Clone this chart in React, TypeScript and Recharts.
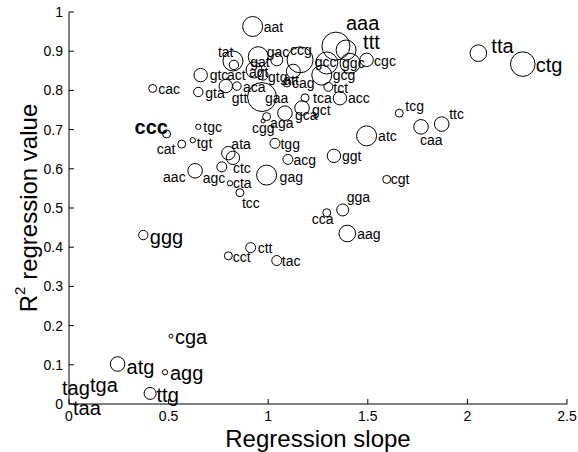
import React from 'react';
import { ScatterChart, Scatter, XAxis, YAxis, ZAxis, Label } from 'recharts';

const codons = [
  'aat', 'aaa', 'ttt', 'tta', 'ctg', 'tat', 'act', 'gat', 'gac', 'ccg',
  'agt', 'gtg', 'att', 'cag', 'gtc', 'gta', 'cac', 'gtt', 'aca', 'gaa',
  'gcc', 'ggc', 'cgc', 'gcg', 'tct', 'tca', 'acc', 'gct', 'gca', 'aga',
  'cgg', 'ccc', 'tgc', 'cat', 'tgt', 'ata', 'ctc', 'agc', 'cta', 'tcc',
  'aac', 'gag', 'tgg', 'acg', 'ggt', 'atc', 'tcg', 'ttc', 'caa', 'cgt',
  'gga', 'cca', 'aag', 'ggg', 'ctt', 'cct', 'tac', 'cga', 'atg', 'agg',
  'ttg', 'tag', 'tga', 'taa',
];
const slopes = [
  0.922, 1.34, 1.391, 2.055, 2.278, 0.823, 0.828, 0.95, 1.043, 1.16,
  0.929, 0.974, 1.126, 1.094, 0.661, 0.649, 0.42, 0.787, 0.843, 0.969,
  1.294, 1.411, 1.494, 1.269, 1.302, 1.185, 1.36, 1.17, 1.084, 0.992,
  0.974, 0.49, 0.649, 0.566, 0.621, 0.8, 0.823, 0.767, 0.808, 0.858,
  0.633, 0.992, 1.034, 1.099, 1.33, 1.494, 1.658, 1.871, 1.767, 1.595,
  1.374, 1.294, 1.397, 0.373, 0.912, 0.8, 1.043, 0.512, 0.244, 0.482,
  0.407, 0, 0, 0,
];
const r2Values = [
  0.963, 0.913, 0.903, 0.895, 0.867, 0.875, 0.865, 0.886, 0.878, 0.878,
  0.852, 0.839, 0.849, 0.819, 0.839, 0.796, 0.805, 0.811, 0.811, 0.783,
  0.87, 0.869, 0.878, 0.839, 0.809, 0.781, 0.78, 0.755, 0.742, 0.733,
  0.722, 0.689, 0.707, 0.663, 0.673, 0.64, 0.628, 0.605, 0.563, 0.539,
  0.595, 0.584, 0.665, 0.624, 0.633, 0.684, 0.742, 0.714, 0.707, 0.573,
  0.495, 0.488, 0.435, 0.431, 0.399, 0.378, 0.366, 0.173, 0.102, 0.081,
  0.027, 0, 0, 0,
];
// bubble weight (area)
const weights = [
  100, 196, 100, 69, 151, 100, 22, 100, 36, 169,
  64, 25, 49, 16, 45, 22, 16, 45, 18, 210,
  121, 100, 45, 100, 20, 16, 45, 53, 53, 16,
  4, 16, 7, 16, 7, 45, 45, 25, 7, 16,
  53, 100, 25, 25, 45, 100, 16, 53, 53, 16,
  36, 16, 69, 22, 25, 16, 25, 4, 53, 7,
  36, 0, 0, 0,
];

const xTicks = [0, 0.5, 1, 1.5, 2, 2.5];
const yTicks = [0, 0.1, 0.2, 0.3, 0.4, 0.5, 0.6, 0.7, 0.8, 0.9, 1];

// where each codon label sits relative to its bubble, in px
const labelNudge: Record<string, [number, number]> = {
  aat: [11, 0], aaa: [10, -23], ttt: [17, -8], tta: [13, -7], ctg: [13, 1],
  tat: [-15, -9], act: [-7, 10], gat: [-8, 5], gac: [-10, -8], ccg: [-10, -10],
  agt: [-5, 2], gtg: [5, 2], att: [-10, 9], cag: [5, 0], gtc: [9, 0],
  gta: [7, 1], cac: [5.5, 0.5], gtt: [6, 12], aca: [6, 1], gaa: [3, 1],
  gcc: [-12, -1], ggc: [-8, 0], cgc: [7.5, 1], gcg: [11, 0], tct: [5, 1],
  tca: [8, 0], acc: [8, 0], gct: [10, 2], gca: [10, 2], aga: [3.5, 6.5],
  cgg: [-11, 7], ccc: [-32, -7], tgc: [5, 0], cat: [-25, 5], tgt: [4, 2.5],
  ata: [3, -9], ctc: [0, 10], agc: [-19, 11], cta: [3, 0], tcc: [2, 10],
  aac: [-32, 6], gag: [13, 2], tgg: [5.5, 1], acg: [5.5, 1], ggt: [8, 0],
  atc: [11.5, 0.5], tcg: [6, -7], ttc: [7.5, -10], caa: [-1, 13], cgt: [4, 0],
  gga: [4, -13], cca: [-15, 6], aag: [10, 1], ggg: [6.5, 1.5], ctt: [7, 0],
  cct: [4.5, 1], tac: [5, 0], cga: [4, 1], atg: [9, 2.5], agg: [5, 0.5],
  ttg: [6.5, 1.5], tag: [-7, -16], tga: [21, -19], taa: [4, 4],
};
const bigLabels = ['aaa', 'ttt', 'tta', 'ctg', 'ccc', 'ggg', 'cga', 'atg', 'agg', 'ttg', 'tag', 'tga', 'taa'];

const points = codons.map((codon, i) => ({ codon, x: slopes[i], y: r2Values[i], w: weights[i] }));

const FONT = '"Liberation Sans", Arial, Helvetica, sans-serif';
const MAX_W = 250;

function Bubble(props: any) {
  const { cx, cy, payload } = props;
  const size = typeof props.size === 'number' ? props.size : Math.PI * payload.w;
  const r = size > 0 ? Math.sqrt(size / Math.PI) : 0;
  const [dx, dy] = labelNudge[payload.codon] ?? [r + 1, 0];
  const big = bigLabels.includes(payload.codon);
  return (
    <g>
      {r > 0 && <circle cx={cx} cy={cy} r={r} fill="none" stroke="#000" strokeWidth={1} />}
      <text
        x={cx + dx}
        y={cy + dy}
        fontSize={big ? 20 : 14}
        fontWeight={payload.codon === 'ccc' ? 'bold' : 'normal'}
        fontFamily={FONT}
        dominantBaseline="central"
        fill="#000"
      >
        {payload.codon}
      </text>
    </g>
  );
}

export default function App() {
  const tick = { fill: '#000', fontSize: 14, fontFamily: FONT };
  return (
    <div style={{ width: 578, height: 452, background: '#fff' }}>
      <style>{'body{margin:0}'}</style>
      <ScatterChart width={578} height={452} margin={{ top: 12, right: 11, bottom: 8, left: 9 }} style={{ fontFamily: FONT }}>
        <XAxis
          xAxisId="b"
          dataKey="x"
          type="number"
          domain={[0, 2.5]}
          ticks={xTicks}
          height={40}
          stroke="#000"
          tick={tick}
          tickSize={-5}
          tickMargin={12}
        >
          <Label
            content={(p: any) => (
              <text x={p.viewBox.x + p.viewBox.width / 2} y={p.viewBox.y + 34} textAnchor="middle" dominantBaseline="central" fontSize={24} fontFamily={FONT} fill="#000">
                Regression slope
              </text>
            )}
          />
        </XAxis>
        <XAxis xAxisId="t" orientation="top" type="number" domain={[0, 2.5]} ticks={xTicks} height={0} stroke="#000" tickSize={-5} tickFormatter={() => ''} />
        <YAxis
          yAxisId="l"
          dataKey="y"
          type="number"
          domain={[0, 1]}
          ticks={yTicks}
          width={60}
          stroke="#000"
          tick={tick}
          tickSize={-5}
          tickMargin={11}
        >
          <Label
            content={(p: any) => {
              const x = p.viewBox.x + 19;
              const y = p.viewBox.y + p.viewBox.height / 2;
              return (
                <text transform={`translate(${x},${y}) rotate(-90)`} textAnchor="middle" dominantBaseline="central" fontSize={24} fontFamily={FONT} fill="#000">
                  R<tspan dy={-9} fontSize={15}>2</tspan>
                  <tspan dy={9}> regression value</tspan>
                </text>
              );
            }}
          />
        </YAxis>
        <YAxis yAxisId="r" orientation="right" type="number" domain={[0, 1]} ticks={yTicks} width={0} stroke="#000" tickSize={-5} tickFormatter={() => ''} />
        <ZAxis dataKey="w" type="number" domain={[0, MAX_W]} range={[0, MAX_W * Math.PI]} />
        <Scatter data={points} xAxisId="b" yAxisId="l" shape={<Bubble />} isAnimationActive={false} />
      </ScatterChart>
    </div>
  );
}
